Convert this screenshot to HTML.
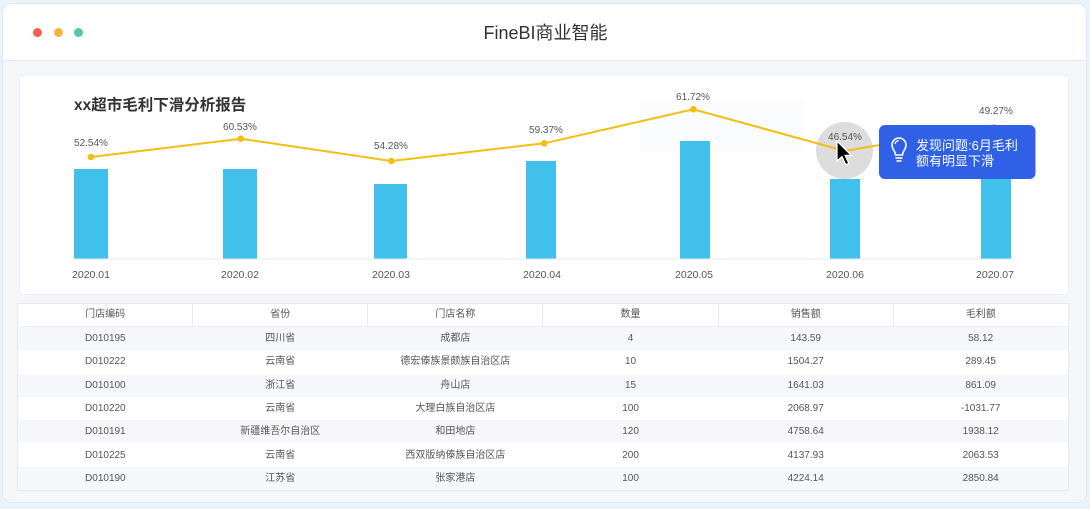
<!DOCTYPE html>
<html>
<head>
<meta charset="utf-8">
<style>
  html,body{margin:0;padding:0;}
  body{width:1090px;height:509px;background:#e9f3fb;position:relative;overflow:hidden;font-family:"Liberation Sans","Noto Sans CJK SC",sans-serif;}
  .win{position:absolute;left:2px;top:3px;width:1085px;height:500px;background:#f4f6fa;border-radius:10px;border:1px solid #e3e8ef;box-sizing:border-box;overflow:hidden;}
  .hdr{position:absolute;left:0;top:0;width:100%;height:56px;background:#fff;border-bottom:1px solid #e4e8ef;}
  .dot{position:absolute;top:24px;width:9px;height:9px;border-radius:50%;}
  .title{position:absolute;left:0;top:0;width:1085px;text-align:center;line-height:58px;font-size:18px;color:#333;}
  .card{position:absolute;left:19px;top:75px;width:1050px;height:220px;background:#fff;border:1px solid #eceff4;box-sizing:border-box;border-radius:3px;}
  table{position:absolute;left:17px;top:303px;width:1052px;border-collapse:collapse;table-layout:fixed;font-size:10px;color:#555;background:#fff;border:1px solid #e6e9ef;}
  td,th{height:23.3px;padding:0;text-align:center;font-weight:normal;line-height:23px;vertical-align:middle;white-space:nowrap;overflow:hidden;}
  th{height:22px;line-height:22px;border-left:1px solid #e6e9ef;border-bottom:1px solid #edf0f4;}
  th:first-child{border-left:none;}
  tr.g td{background:#f5f7fb;}
</style>
</head>
<body>
<div class="win">
  <div class="hdr">
    <div class="dot" style="left:30px;background:#f0624f;"></div>
    <div class="dot" style="left:51px;background:#f5b53a;"></div>
    <div class="dot" style="left:71px;background:#4fc8a8;"></div>
    <div class="title">FineBI商业智能</div>
  </div>
</div>
<div class="card"></div>

<svg width="1090" height="509" style="position:absolute;left:0;top:0;" xmlns="http://www.w3.org/2000/svg">
  <rect x="640" y="100" width="163" height="52" fill="#fbfcfe"/>
  <text x="74" y="110" font-size="15.5" font-weight="bold" fill="#333" font-family="Liberation Sans, Noto Sans CJK SC, sans-serif">xx超市毛利下滑分析报告</text>
  <!-- bars -->
  <g fill="#41c0eb">
    <rect x="74" y="169" width="34" height="90"/>
    <rect x="223" y="169" width="34" height="90"/>
    <rect x="374" y="184" width="33" height="75"/>
    <rect x="526" y="161" width="30" height="98"/>
    <rect x="680" y="141" width="30" height="118"/>
    <rect x="830" y="179" width="30" height="80"/>
    <rect x="981" y="150" width="30" height="109"/>
  </g>
  <line x1="72" y1="259" x2="1014" y2="259" stroke="#e4e7ee" stroke-width="1"/>
  <!-- x labels -->
  <g font-size="10.5" fill="#555" text-anchor="middle" font-family="Liberation Sans, sans-serif">
    <text x="91" y="278">2020.01</text>
    <text x="240" y="278">2020.02</text>
    <text x="391" y="278">2020.03</text>
    <text x="542" y="278">2020.04</text>
    <text x="694" y="278">2020.05</text>
    <text x="845" y="278">2020.06</text>
    <text x="995" y="278">2020.07</text>
  </g>
  <!-- highlight circle -->
  <circle cx="844.5" cy="150.5" r="28.5" fill="#d8d8d8" opacity="0.9"/>
  <!-- line -->
  <polyline points="91,157 240.7,138.7 391.3,161 544.3,143.3 693.3,109.3 845,151 996,125" fill="none" stroke="#f4bd12" stroke-width="2"/>
  <g fill="#f4bd12">
    <circle cx="91" cy="157" r="3.3"/>
    <circle cx="240.7" cy="138.7" r="3.3"/>
    <circle cx="391.3" cy="161" r="3.3"/>
    <circle cx="544.3" cy="143.3" r="3.3"/>
    <circle cx="693.3" cy="109.3" r="3.3"/>
  </g>
  <!-- value labels -->
  <g font-size="10" fill="#555" text-anchor="middle" font-family="Liberation Sans, sans-serif">
    <text x="91" y="146">52.54%</text>
    <text x="240" y="130">60.53%</text>
    <text x="391" y="149">54.28%</text>
    <text x="546" y="133">59.37%</text>
    <text x="693" y="100">61.72%</text>
    <text x="845" y="140">46.54%</text>
    <text x="996" y="114">49.27%</text>
  </g>
  <!-- cursor -->
  <g transform="translate(837,141) scale(1.25)">
    <polygon points="0,0 0,16 4,12.5 7,19 9.5,18 6.5,11.5 11.5,11.5" fill="#000" stroke="#fff" stroke-width="1"/>
  </g>
  <!-- tooltip -->
  <rect x="879" y="125" width="156.5" height="54" rx="6" fill="#2f60e6"/>
  <g fill="none" stroke="#fff" stroke-width="1.6">
    <path d="M895.5,155 C895.5,151 892,149.5 892,145 A7,7 0 0 1 906,145 C906,149.5 902.5,151 902.5,155 Z"/>
    <line x1="895.5" y1="158" x2="902.5" y2="158"/>
    <line x1="896.5" y1="161" x2="901.5" y2="161"/>
    <path d="M895,144 A4,4 0 0 1 899,140.5" stroke-width="1.2"/>
  </g>
  <g font-size="13" fill="#fff" font-family="Liberation Sans, Noto Sans CJK SC, sans-serif">
    <text x="916" y="150">发现问题:6月毛利</text>
    <text x="916" y="165.5">额有明显下滑</text>
  </g>
</svg>

<table>
  <colgroup><col><col><col><col><col><col></colgroup>
  <tr><th>门店编码</th><th>省份</th><th>门店名称</th><th>数量</th><th>销售额</th><th>毛利额</th></tr>
  <tr class="g"><td>D010195</td><td>四川省</td><td>成都店</td><td>4</td><td>143.59</td><td>58.12</td></tr>
  <tr><td>D010222</td><td>云南省</td><td>德宏傣族景颇族自治区店</td><td>10</td><td>1504.27</td><td>289.45</td></tr>
  <tr class="g"><td>D010100</td><td>浙江省</td><td>舟山店</td><td>15</td><td>1641.03</td><td>861.09</td></tr>
  <tr><td>D010220</td><td>云南省</td><td>大理白族自治区店</td><td>100</td><td>2068.97</td><td>-1031.77</td></tr>
  <tr class="g"><td>D010191</td><td>新疆维吾尔自治区</td><td>和田地店</td><td>120</td><td>4758.64</td><td>1938.12</td></tr>
  <tr><td>D010225</td><td>云南省</td><td>西双版纳傣族自治区店</td><td>200</td><td>4137.93</td><td>2063.53</td></tr>
  <tr class="g"><td>D010190</td><td>江苏省</td><td>张家港店</td><td>100</td><td>4224.14</td><td>2850.84</td></tr>
</table>
</body>
</html>
